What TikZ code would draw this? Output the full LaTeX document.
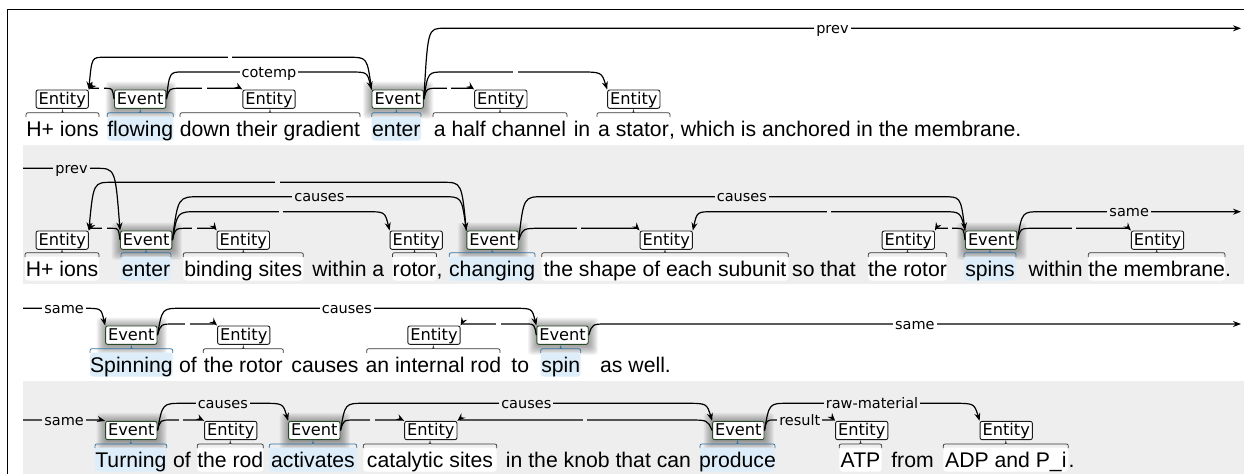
\documentclass[tikz,border=0pt]{standalone}
\usepackage{fontspec}
\setmainfont{Liberation Sans}
\newfontfamily\djv{DejaVu Sans}
\usetikzlibrary{calc,arrows.meta}
\definecolor{rowgray}{RGB}{238,238,238}
\definecolor{evgreen}{RGB}{40,72,40}
\definecolor{entborder}{RGB}{25,25,25}
\definecolor{evhl}{RGB}{221,238,250}
\definecolor{evbrace}{RGB}{50,115,165}
\definecolor{entbrace}{RGB}{55,55,55}
\pgfdeclarelayer{back}
\pgfdeclarelayer{glowl}
\pgfsetlayers{back,glowl,main}
\def\rowbg{white}
\tikzset{
  entbox/.style={draw=entborder, fill=white, rounded corners=2pt, line width=0.9pt,
    font=\djv\fontsize{16.2}{18}\selectfont, inner xsep=2.5pt, inner ysep=1pt,
    text height=13pt, text depth=3.3pt},
  evbox/.style={entbox, draw=evgreen},
  sent/.style={font=\fontsize{21.2}{25}\selectfont, inner sep=0pt, anchor=base},
  arcline/.style={line width=1.2pt, -{Stealth[length=8pt,width=6pt]}},
  arclab/.style={font=\djv\fontsize{14.5}{17}\selectfont, fill=\rowbg, inner xsep=2pt,
    inner ysep=0.5pt, text height=9pt, text depth=0pt, anchor=base, yshift=-5pt},
  gapbox/.style={fill=\rowbg, inner sep=0pt, minimum width=4.5pt, minimum height=4pt},
  bracel/.style={line width=0.75pt},
}
\newcommand\arclabel[4]{%
  \path ($(#1)!0.5!(#2)$) coordinate (amid);
  \def\tmplab{#4}%
  \ifx\tmplab\empty
    \node[gapbox] (gap) at (amid |- 0pt,#3pt) {};
  \else
    \node[arclab] (lab) at (amid |- 0pt,#3pt) {#4};
  \fi}
\newcommand\arcR[6]{%
  \draw[arcline] let \p1=(#1), \p2=(#2) in
    (\p1) .. controls (\x1+0.2*#5pt,#3pt) .. (\x1+#5pt,#3pt)
    -- (\x2-#6pt,#3pt) .. controls (\x2-0.2*#6pt,#3pt) .. (\p2);
  \arclabel{#1}{#2}{#3}{#4}}
\newcommand\arcL[6]{%
  \draw[arcline] let \p1=(#1), \p2=(#2) in
    (\p1) .. controls (\x1-0.2*#5pt,#3pt) .. (\x1-#5pt,#3pt)
    -- (\x2+#6pt,#3pt) .. controls (\x2+0.2*#6pt,#3pt) .. (\p2);
  \arclabel{#1}{#2}{#3}{#4}}
\newcommand\arcOut[5]{%
  \draw[arcline] let \p1=(#1), \p2=(#2) in
    (\p1) .. controls (\x1+0.2*#5pt,#3pt) .. (\x1+#5pt,#3pt) -- (\p2);
  \arclabel{#1}{#2}{#3}{#4}}
\newcommand\arcIn[5]{%
  \draw[arcline] let \p1=(#1), \p2=(#2) in
    (\p1) -- (\x2-#5pt,#3pt) .. controls (\x2-0.2*#5pt,#3pt) .. (\p2);
  \arclabel{#1}{#2}{#3}{#4}}
\newcommand\glow[1]{%
  \begin{pgfonlayer}{glowl}
    \foreach \gi in {1,...,9}{%
      \fill[black, opacity=0.042, rounded corners=3pt]
        ($(#1.south west)+(-\gi+0.5,-\gi-1)$) rectangle ($(#1.north east)+(\gi+0.5,\gi-1)$);}
  \end{pgfonlayer}}
\newcommand\spanbrace[4]{%
  \pgfmathsetmacro\bmid{(#1+#2)/2}%
  \draw[#4, bracel]
    (#1,-#3-8.5) .. controls (#1,-#3-4.5) .. (#1+4,-#3-4.5) -- (\bmid-4,-#3-4.5)
    .. controls (\bmid,-#3-4.5) .. (\bmid,-#3-2) .. controls (\bmid,-#3-4.5) .. (\bmid+4,-#3-4.5)
    -- (#2-4,-#3-4.5) .. controls (#2,-#3-4.5) .. (#2,-#3-8.5);}
\newcommand\spE[6]{%
  \fill[white, rounded corners=3pt] (#2,-#4+19.5) rectangle (#3,-#4-4.5);
  \spanbrace{#2}{#3}{#5}{entbrace}
  \node[sent] (#1) at ({(#2+#3)/2},-#4) {#6};}
\newcommand\spV[6]{%
  \fill[evhl, rounded corners=3pt] (#2,-#4+19.5) rectangle (#3,-#4-4.5);
  \spanbrace{#2}{#3}{#5}{evbrace}
  \node[sent] (#1) at ({(#2+#3)/2},-#4) {#6};}

\begin{document}
\begin{tikzpicture}[x=1pt,y=1pt]
\useasboundingbox (0,0) rectangle (1244,-474);
\begin{pgfonlayer}{back}
  \fill[white] (0,0) rectangle (1244,-474);
  \fill[rowgray] (23,-145) rectangle (1244,-284.3);
  \fill[rowgray] (23,-380.7) rectangle (1244,-474);
  \draw[line width=1pt] (7.3,-474) -- (7.3,-9) -- (1244,-9);
\end{pgfonlayer}

% ---------- sentence texts ----------
\spE{t1a}{26}{99}{136}{108.3}{H+ ions}
\spV{t1b}{107.3}{173.3}{136}{108.3}{flowing}
\spE{t1c}{180}{360}{136}{108.3}{down their gradient}
\spV{t1d}{371.7}{421}{136}{108.3}{enter}
\spE{t1e}{433}{567}{136}{108.3}{a half channel}
\node[sent] (t1f) at (582,-136) {in};
\spE{t1g}{597}{670}{136}{108.3}{a stator}
\node[sent, anchor=base west] (t1h) at (668.9,-136) {, which is anchored in the membrane.};

\spE{t2a}{25}{99}{276}{248.3}{H+ ions}
\spV{t2b}{121}{171}{276}{248.3}{enter}
\spE{t2c}{183.3}{303.3}{276}{248.3}{binding sites}
\node[sent] (t2d) at (348.3,-276) {within a};
\spE{t2e}{392.5}{436.5}{276}{248.3}{rotor}
\node[sent, anchor=base west] (t2f) at (436.3,-276) {,};
\spV{t2g}{449.3}{535}{276}{248.3}{changing}
\spE{t2h}{541.7}{788.3}{276}{248.3}{the shape of each subunit}
\node[sent, anchor=base west] (t2i) at (792,-276) {so that};
\spE{t2j}{868.3}{946.7}{276}{248.3}{the rotor}
\spV{t2k}{964}{1016}{276}{248.3}{spins}
\node[sent, anchor=base west] (t2l) at (1028.3,-276) {within};
\spE{t2m}{1088.3}{1225}{276}{248.3}{the membrane}
\node[sent, anchor=base west] (t2n) at (1224.8,-276) {.};

\spV{t3a}{90}{172.7}{372}{344.3}{Spinning}
\node[sent] (t3b) at (188,-372) {of};
\spE{t3c}{203.3}{283.3}{372}{344.3}{the rotor}
\node[sent] (t3d) at (325,-372) {causes};
\spE{t3e}{366.7}{500}{372}{344.3}{an internal rod}
\node[sent] (t3f) at (520.3,-372) {to};
\spV{t3g}{540.7}{580.7}{372}{344.3}{spin}
\node[sent, anchor=base west] (t3h) at (600,-372) {as well.};

\spV{t4a}{95}{166.7}{467}{439.5}{Turning}
\node[sent] (t4b) at (182,-467) {of};
\spE{t4c}{197.3}{263.3}{467}{439.5}{the rod}
\spV{t4d}{269.3}{356.7}{467}{439.5}{activates}
\spE{t4e}{363.3}{496.7}{467}{439.5}{catalytic sites}
\node[sent] (t4f) at (598.5,-467) {in the knob that can};
\spV{t4g}{700}{775}{467}{439.5}{produce}
\spE{t4h}{839.3}{881.7}{467}{439.5}{ATP}
\node[sent] (t4i) at (912.5,-467) {from};
\spE{t4j}{943.3}{1068.3}{467}{439.5}{ADP and P\_i}
\node[sent, anchor=base west] (t4k) at (1068.3,-467) {.};

% ---------- label boxes ----------
\node[entbox] (r1a) at (62.2,-99.15) {Entity};
\node[evbox]  (r1b) at (140.2,-99.15) {Event};
\node[entbox] (r1c) at (269,-99.15) {Entity};
\node[evbox]  (r1d) at (397.7,-99.15) {Event};
\node[entbox] (r1e) at (500.8,-99.15) {Entity};
\node[entbox] (r1f) at (633.8,-99.15) {Entity};

\node[entbox] (r2a) at (62.2,-240.15) {Entity};
\node[evbox]  (r2b) at (146.2,-240.15) {Event};
\node[entbox] (r2c) at (243.3,-240.15) {Entity};
\node[entbox] (r2d) at (416.2,-240.15) {Entity};
\node[evbox]  (r2e) at (492.5,-240.15) {Event};
\node[entbox] (r2f) at (666.2,-240.15) {Entity};
\node[entbox] (r2g) at (908.3,-240.15) {Entity};
\node[evbox]  (r2h) at (991.2,-240.15) {Event};
\node[entbox] (r2i) at (1157.5,-240.15) {Entity};

\node[evbox]  (r3a) at (131.3,-335.15) {Event};
\node[entbox] (r3b) at (243.7,-335.15) {Entity};
\node[entbox] (r3c) at (434,-335.15) {Entity};
\node[evbox]  (r3d) at (562.5,-335.15) {Event};

\node[evbox]  (r4a) at (131.3,-430.5) {Event};
\node[entbox] (r4b) at (230.7,-430.5) {Entity};
\node[evbox]  (r4c) at (314.3,-430.5) {Event};
\node[entbox] (r4d) at (430.8,-430.5) {Entity};
\node[evbox]  (r4e) at (738.3,-430.5) {Event};
\node[entbox] (r4f) at (861.7,-430.5) {Entity};
\node[entbox] (r4g) at (1006.2,-430.5) {Entity};

\glow{r1b}\glow{r1d}\glow{r2b}\glow{r2e}\glow{r2h}
\glow{r3a}\glow{r3d}\glow{r4a}\glow{r4c}\glow{r4e}

\coordinate (r1out) at (1241,-28.3);
\coordinate (r2in)  at (23,-168.3);
\coordinate (r2out) at (1241,-211.7);
\coordinate (r3in)  at (23,-308.3);
\coordinate (r3out) at (1241,-324);
\coordinate (r4in)  at (23,-420);

% ---------- arcs row 1 ----------
\def\rowbg{white}
\arcL{r1d.north west}{r1a.north east}{-57.3}{}{22}{15}
\arcR{r1b.east}{r1d.north west}{-72}{cotemp}{16}{21.7}
\arcR{r1b.east}{r1c.north west}{-88.3}{}{14}{10}
\arcL{r1b.west}{r1a.north east}{-88.3}{}{8}{6}
\arcOut{r1d.east}{r1out}{-28.3}{prev}{20}
\arcR{r1d.east}{r1e.north west}{-88.3}{}{13}{8}
\arcR{r1d.east}{r1f.north west}{-72}{}{20}{28}

% ---------- arcs row 2 ----------
\def\rowbg{rowgray}
\arcIn{r2in}{r2b.north west}{-168.3}{prev}{24}
\arcL{r2e.north west}{r2a.north east}{-182.3}{}{23.4}{23.4}
\arcR{r2b.east}{r2e.north west}{-196.7}{causes}{28}{23.7}
\arcR{r2b.east}{r2d.north west}{-211.7}{}{25}{23.3}
\arcR{r2b.east}{r2c.north west}{-228.3}{}{15}{8}
\arcL{r2b.west}{r2a.north east}{-228.3}{}{8}{6}
\arcR{r2e.east}{r2f.north west}{-228.3}{}{22}{10}
\arcR{r2e.east}{r2h.north west}{-196.7}{causes}{25}{22.4}
\arcL{r2h.north west}{r2f.north east}{-211.7}{}{22.4}{21}
\arcL{r2h.west}{r2g.north east}{-228.3}{}{8}{6}
\arcOut{r2h.east}{r2out}{-211.7}{same}{23.3}
\arcR{r2h.east}{r2i.north west}{-228.3}{}{16}{10}

% ---------- arcs row 3 ----------
\def\rowbg{white}
\arcIn{r3in}{r3a.north west}{-308.3}{same}{20}
\arcR{r3a.east}{r3d.north west}{-308.3}{causes}{23.3}{21.7}
\arcR{r3a.east}{r3b.north west}{-324}{}{16.6}{8}
\arcL{r3d.west}{r3c.north east}{-324}{}{10}{4}
\arcOut{r3d.east}{r3out}{-324}{same}{18}

% ---------- arcs row 4 ----------
\def\rowbg{rowgray}
\arcIn{r4in}{r4a.north west}{-420}{same}{18}
\arcR{r4a.east}{r4c.north west}{-403.3}{causes}{25}{25.4}
\arcR{r4a.east}{r4b.north west}{-420}{}{14}{8}
\arcR{r4c.east}{r4e.north west}{-403.3}{causes}{23.3}{26.6}
\arcR{r4c.east}{r4d.north west}{-420}{}{15}{8}
\arcL{r4e.west}{r4d.north east}{-420}{}{23.3}{5}
\arcR{r4e.east}{r4f.north west}{-420}{result}{10}{4}
\arcR{r4e.east}{r4g.north west}{-403.3}{raw-material}{23.4}{26.7}
\end{tikzpicture}
\end{document}
